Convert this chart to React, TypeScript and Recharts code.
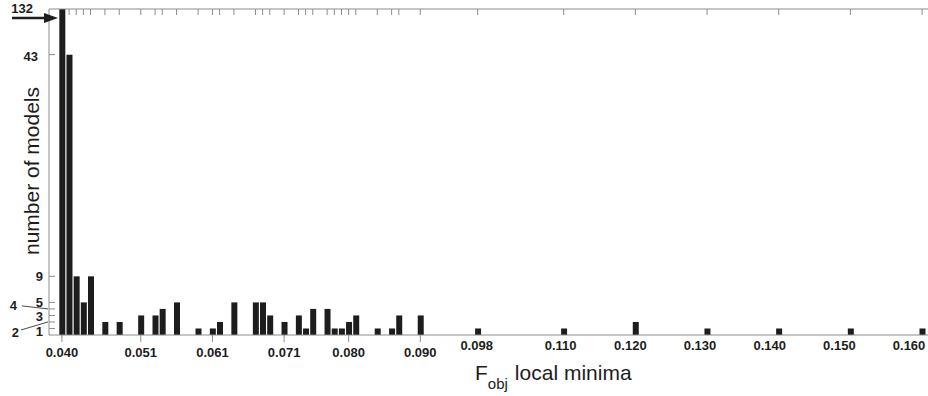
import React from 'react';
import { BarChart, Bar, XAxis, YAxis } from 'recharts';

// F_obj value of each local minimum and how many models ended there
const fValues = [
  0.040, 0.041, 0.042, 0.043, 0.044, 0.046, 0.048, 0.051, 0.053, 0.054,
  0.056, 0.059, 0.061, 0.062, 0.064, 0.067, 0.068, 0.069, 0.071, 0.073,
  0.074, 0.075, 0.077, 0.078, 0.079, 0.080, 0.081, 0.084, 0.086, 0.087,
  0.090, 0.098, 0.110, 0.120, 0.130, 0.140, 0.150, 0.160,
];
const counts = [
  132, 43, 9, 5, 9, 2, 2, 3, 3, 4,
  5, 1, 1, 2, 5, 5, 5, 3, 2, 3,
  1, 4, 4, 1, 1, 2, 3, 1, 1, 3,
  3, 1, 1, 2, 1, 1, 1, 1,
];

const xTicks = [0.040, 0.051, 0.061, 0.071, 0.080, 0.090, 0.098, 0.110, 0.120, 0.130, 0.140, 0.150, 0.160];
const yTicks = [1, 2, 3, 4, 5, 9, 43, 50];
// the y axis is cut at 50, the top label carries the real height of the first bar
const yBreak = 50;
const yBreakLabel = '132';

const data = fValues.map((f, i) => ({ f, n: counts[i] }));

const AXIS = '#8c8c8c';
const INK = '#1d1d1d';
const FONT = '"Liberation Sans", Arial, Helvetica, sans-serif';

const txt = { fontSize: 13, fontWeight: 700, fill: INK, fontFamily: FONT } as const;

function BottomTick({ x, y, payload }: any) {
  const v = payload.value as number;
  const low = v <= 0.0905;
  // labels past the gap sit higher and drift a little left of their bars
  const dx = low ? 0 : -Math.round((v - 0.095) * 200);
  return (
    <g>
      {low && <line x1={x} x2={x} y1={y} y2={y + 7} stroke={AXIS} />}
      <text x={x + dx} y={y + (low ? 22 : 15)} textAnchor="middle" {...txt}>
        {v.toFixed(3)}
      </text>
    </g>
  );
}

function TopTick({ x, y }: any) {
  return <line x1={x} x2={x} y1={y} y2={y + 6} stroke={AXIS} />;
}

function LeftTick({ x, y, payload }: any) {
  const v = payload.value as number;
  if (v === yBreak) {
    return (
      <g>
        <text x={x - 16} y={y + 4} textAnchor="end" {...txt}>{yBreakLabel}</text>
        <line x1={x - 37} x2={x - 2} y1={y + 9} y2={y + 9} stroke={INK} strokeWidth={2.5} />
        <polygon points={`${x - 5},${y + 4} ${x + 9},${y + 9} ${x - 5},${y + 14}`} fill={INK} />
      </g>
    );
  }
  const tick = <line x1={x} x2={x + 6} y1={y} y2={y} stroke={AXIS} />;
  if (v === 4) {
    return (
      <g>
        {tick}
        <text x={x - 32} y={y + 1} textAnchor="end" {...txt}>4</text>
        <line x1={x - 27} y1={y - 3} x2={x - 1} y2={y} stroke={INK} strokeWidth={0.8} />
      </g>
    );
  }
  if (v === 2) {
    return (
      <g>
        {tick}
        <text x={x - 30} y={y + 15} textAnchor="end" {...txt}>2</text>
        <line x1={x - 28} y1={y + 8} x2={x - 1} y2={y} stroke={INK} strokeWidth={0.8} />
      </g>
    );
  }
  const dx = v === 43 ? -11 : -6;
  const dy = v === 1 ? 8 : v === 3 ? 5.5 : v === 43 ? 6 : 4.5;
  return (
    <g>
      {tick}
      <text x={x + dx} y={y + dy} textAnchor="end" {...txt}>{v}</text>
    </g>
  );
}

export default function App() {
  return (
    <div
      style={{
        position: 'fixed',
        left: 0,
        top: 0,
        width: 928,
        height: 396,
        overflow: 'hidden',
        background: '#fff',
      }}
    >
      <BarChart
        width={940}
        height={396}
        data={data}
        margin={{ top: 8, right: 0, bottom: 0, left: 48 }}
      >
        <XAxis
          xAxisId="top"
          orientation="top"
          type="number"
          dataKey="f"
          domain={[0.0382, 0.1625]}
          allowDataOverflow
          ticks={fValues.slice(1)}
          interval={0}
          height={1}
          tickSize={0}
          tickMargin={0}
          tickLine={false}
          axisLine={{ stroke: AXIS }}
          tick={<TopTick />}
        />
        <XAxis
          xAxisId="bottom"
          type="number"
          dataKey="f"
          domain={[0.0382, 0.1625]}
          allowDataOverflow
          ticks={xTicks}
          interval={0}
          height={61}
          tickSize={0}
          tickMargin={0}
          tickLine={false}
          axisLine={{ stroke: AXIS }}
          tick={<BottomTick />}
          label={{
            content: () => (
              <text x={475} y={380} fontSize={21} fill={INK} fontFamily={FONT}>
                F
                <tspan dy={9} fontSize={15}>obj</tspan>
                <tspan dy={-9} dx={7}>local minima</tspan>
              </text>
            ),
          }}
        />
        <YAxis
          yAxisId="left"
          type="number"
          domain={[0, yBreak]}
          allowDataOverflow
          ticks={yTicks}
          interval={0}
          width={1}
          tickSize={0}
          tickMargin={0}
          tickLine={false}
          axisLine={{ stroke: AXIS }}
          tick={<LeftTick />}
          label={{
            content: () => (
              <text
                x={39}
                y={171}
                transform="rotate(-90 39 171)"
                textAnchor="middle"
                fontSize={21}
                fill={INK}
                fontFamily={FONT}
              >
                number of models
              </text>
            ),
          }}
        />
        <Bar
          xAxisId="bottom"
          yAxisId="left"
          dataKey="n"
          barSize={6}
          fill={INK}
          isAnimationActive={false}
        />
      </BarChart>
    </div>
  );
}
